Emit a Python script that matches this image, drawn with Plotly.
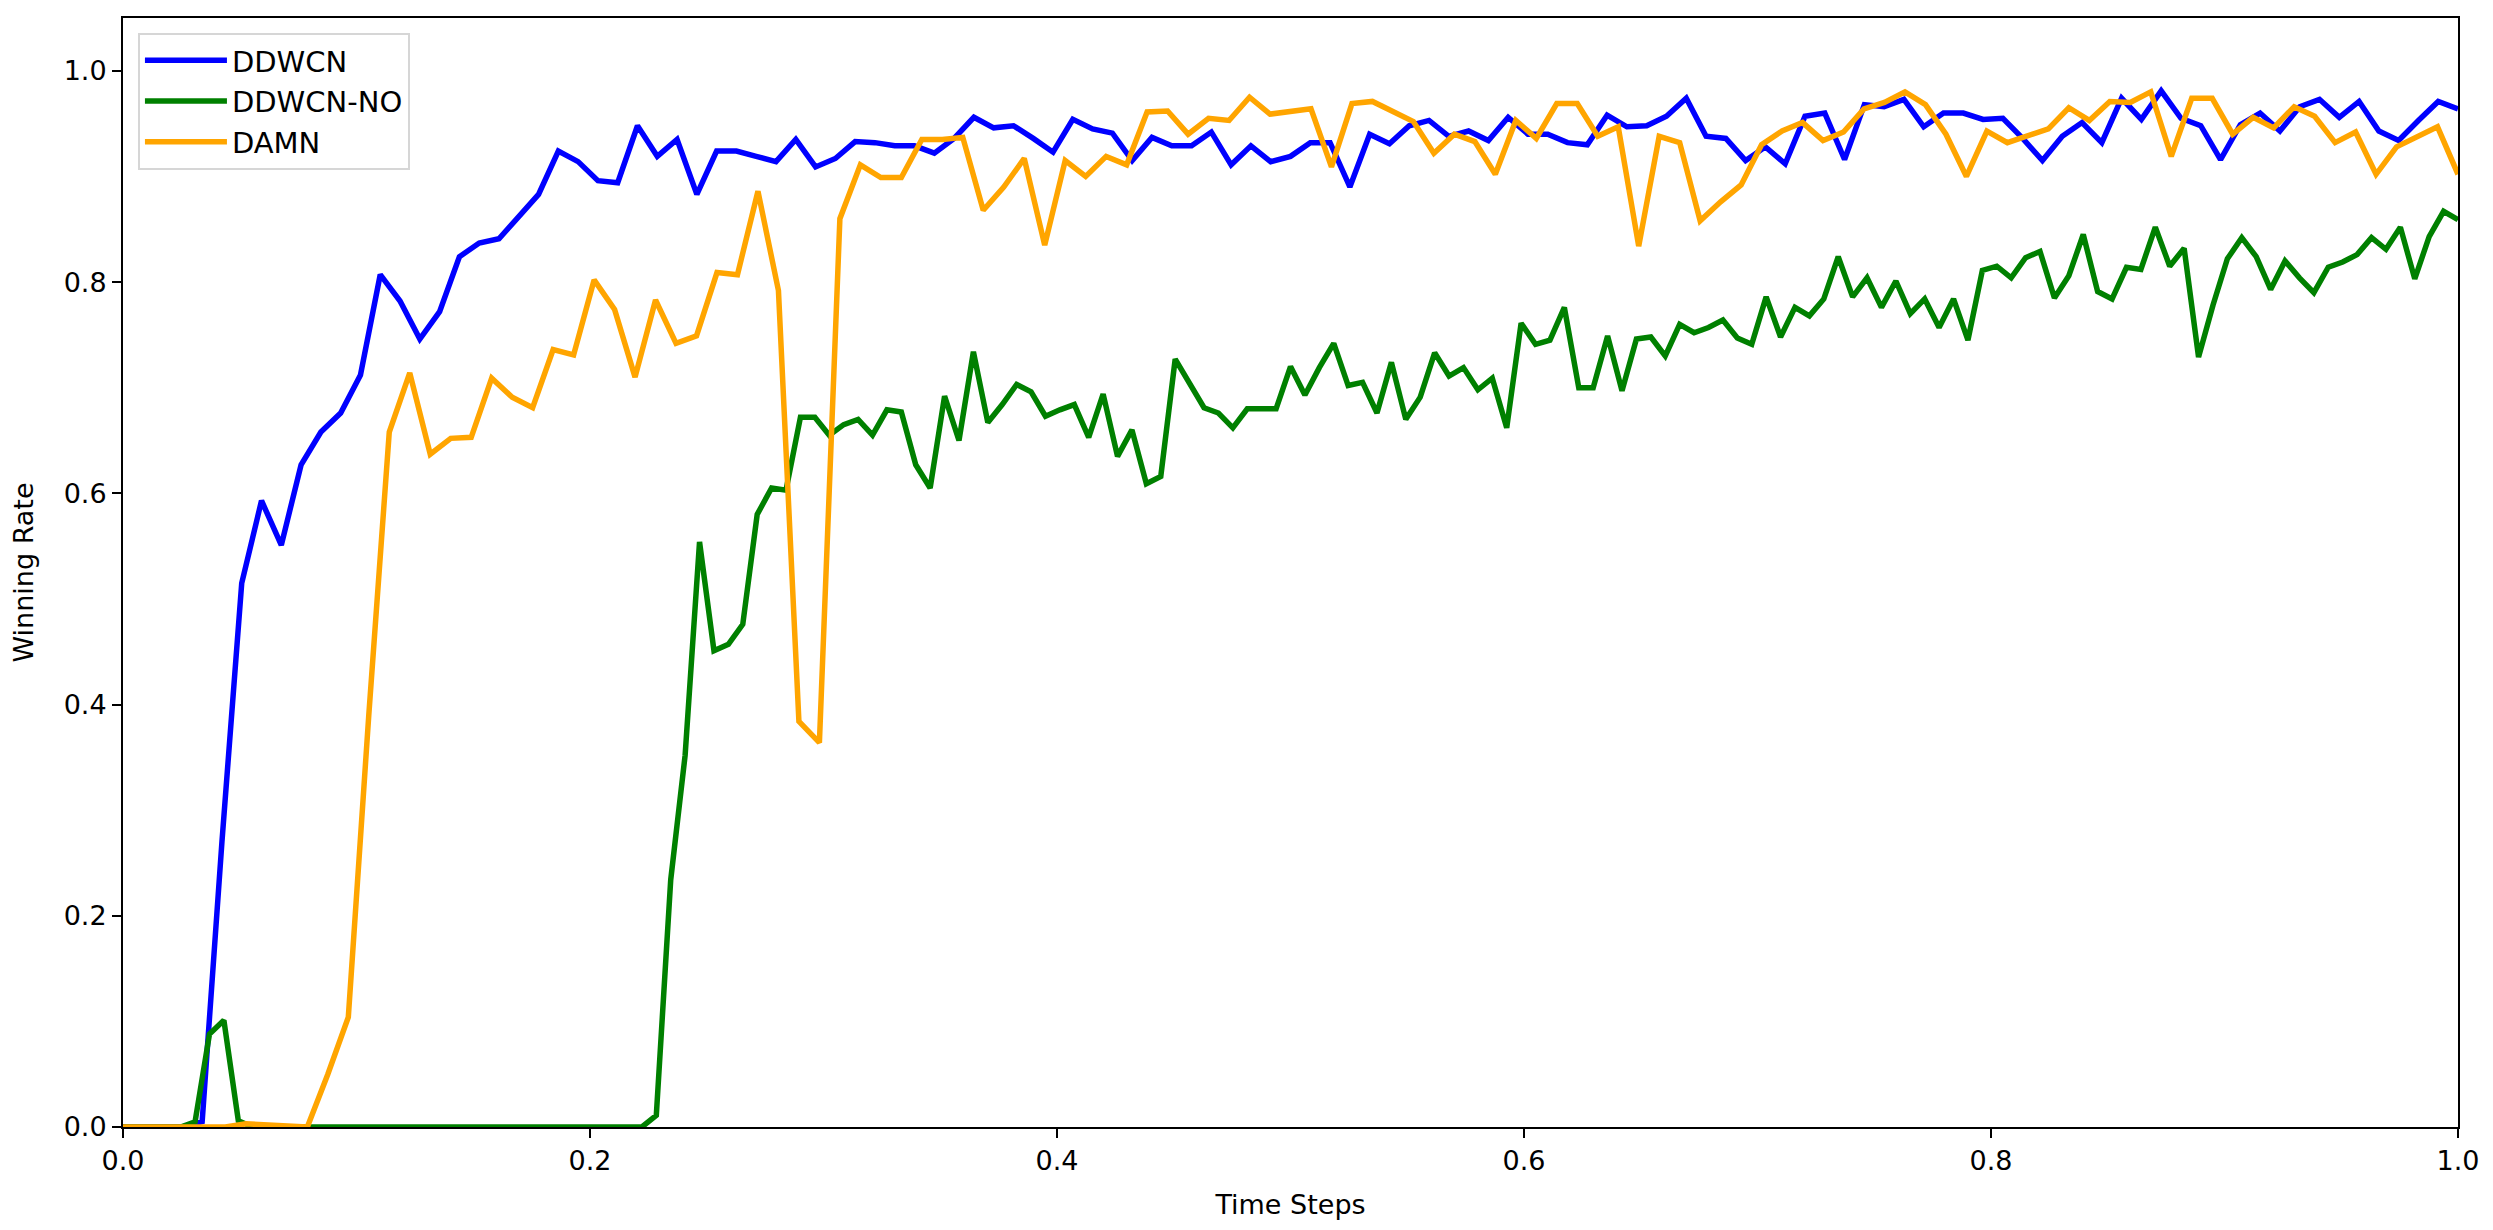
import numpy as np
import plotly.graph_objects as go

# ---- data ----
ddwcn = [0.0, 0.0, 0.0, 0.0, 0.005, 0.27, 0.515, 0.593, 0.551, 0.627,
         0.658, 0.676, 0.712, 0.807, 0.782, 0.746, 0.772, 0.824, 0.837, 0.841,
         0.862, 0.883, 0.924, 0.914, 0.896, 0.894, 0.948, 0.919, 0.935, 0.883,
         0.924, 0.924, 0.919, 0.914, 0.935, 0.909, 0.917, 0.933, 0.932, 0.929,
         0.929, 0.922, 0.936, 0.956, 0.946, 0.948, 0.936, 0.923, 0.954, 0.945,
         0.941, 0.915, 0.937, 0.929, 0.929, 0.942, 0.911, 0.929, 0.914, 0.919,
         0.932, 0.932, 0.890, 0.940, 0.931, 0.948, 0.953, 0.938, 0.943, 0.934,
         0.956, 0.940, 0.940, 0.932, 0.930, 0.958, 0.947, 0.948, 0.957, 0.974,
         0.938, 0.936, 0.915, 0.928, 0.912, 0.957, 0.960, 0.916, 0.968, 0.966,
         0.973, 0.947, 0.960, 0.960, 0.954, 0.955, 0.936, 0.915, 0.938, 0.951,
         0.932, 0.974, 0.954, 0.981, 0.955, 0.948, 0.916, 0.949, 0.960, 0.943,
         0.966, 0.973, 0.956, 0.971, 0.943, 0.934, 0.953, 0.971, 0.964]

ddwcn_no = [0.0, 0.0, 0.0, 0.0, 0.0, 0.005, 0.088, 0.101, 0.006,
            0.0, 0.0, 0.0, 0.0, 0.0, 0.0, 0.0, 0.0, 0.0, 0.0,
            0.0, 0.0, 0.0, 0.0, 0.0, 0.0, 0.0, 0.0, 0.0, 0.0,
            0.0, 0.0, 0.0, 0.0, 0.0, 0.0, 0.0, 0.0,
            0.011, 0.234, 0.352, 0.554, 0.451, 0.457, 0.476, 0.580, 0.605, 0.603,
            0.672, 0.672, 0.655, 0.665, 0.670, 0.655, 0.679, 0.677, 0.627, 0.605,
            0.692, 0.650, 0.734, 0.667, 0.684, 0.703, 0.696, 0.673, 0.679, 0.684,
            0.653, 0.694, 0.635, 0.660, 0.609, 0.616, 0.727, 0.703, 0.681, 0.676,
            0.662, 0.680, 0.680, 0.680, 0.720, 0.693, 0.719, 0.742, 0.702, 0.705,
            0.676, 0.724, 0.670, 0.691, 0.733, 0.711, 0.719, 0.698, 0.709, 0.662,
            0.761, 0.741, 0.745, 0.776, 0.700, 0.700, 0.749, 0.697, 0.746, 0.748,
            0.730, 0.760, 0.752, 0.757, 0.764, 0.747, 0.741, 0.786, 0.748, 0.776,
            0.768, 0.784, 0.824, 0.786, 0.804, 0.776, 0.801, 0.770, 0.784, 0.757,
            0.784, 0.745, 0.811, 0.815, 0.804, 0.823, 0.829, 0.785, 0.806, 0.845,
            0.791, 0.784, 0.814, 0.812, 0.852, 0.815, 0.832, 0.729, 0.778, 0.822,
            0.842, 0.824, 0.793, 0.820, 0.804, 0.790, 0.814, 0.819, 0.826, 0.842,
            0.831, 0.852, 0.803, 0.843, 0.867, 0.859]

damn = [0.0, 0.0, 0.0, 0.0, 0.0, 0.0, 0.003, 0.002, 0.0, 0.0,
        0.05, 0.104, 0.39, 0.658, 0.714, 0.637, 0.652, 0.653, 0.709, 0.691,
        0.681, 0.736, 0.731, 0.802, 0.774, 0.710, 0.783, 0.742, 0.749, 0.809,
        0.807, 0.886, 0.792, 0.384, 0.364, 0.860, 0.911, 0.899, 0.899, 0.935,
        0.935, 0.937, 0.868, 0.890, 0.917, 0.835, 0.915, 0.900, 0.919, 0.911,
        0.961, 0.962, 0.940, 0.955, 0.953, 0.975, 0.959, 0.962, 0.964, 0.909,
        0.969, 0.971, 0.962, 0.952, 0.922, 0.940, 0.933, 0.902, 0.953, 0.936,
        0.969, 0.969, 0.938, 0.947, 0.834, 0.938, 0.932, 0.858, 0.876, 0.892,
        0.930, 0.943, 0.951, 0.934, 0.942, 0.964, 0.970, 0.980, 0.968, 0.940,
        0.900, 0.943, 0.932, 0.938, 0.945, 0.965, 0.953, 0.971, 0.970, 0.980,
        0.919, 0.974, 0.974, 0.940, 0.956, 0.946, 0.966, 0.957, 0.932, 0.942,
        0.902, 0.928, 0.938, 0.947, 0.902]

series_names = ["DDWCN", "DDWCN-NO", "DAMN"]
series_colors = ["#0000ff", "#008000", "#ffa500"]
tick_vals = [0.0, 0.2, 0.4, 0.6, 0.8, 1.0]
tick_text = ["0.0", "0.2", "0.4", "0.6", "0.8", "1.0"]

FONT = "DejaVu Sans"
FS = 27

fig = go.Figure()
for name, vals, col in zip(series_names, [ddwcn, ddwcn_no, damn], series_colors):
    xs = np.linspace(0.0, 1.0, len(vals))
    fig.add_trace(go.Scatter(x=xs, y=vals, mode="lines", name=name, legendgroup=name,
                             line=dict(color=col, width=5.5)))

axis_common = dict(showline=True, linecolor="black", linewidth=2, mirror=True,
                   ticks="outside", ticklen=9, tickwidth=2, tickcolor="black",
                   showgrid=False, zeroline=False,
                   tickfont=dict(family=FONT, size=FS, color="black"),
                   tickvals=tick_vals, ticktext=tick_text, automargin=False)

# page body has an 8px margin; size the figure to fit the window
fig.update_layout(
    width=2477, height=1214,
    margin=dict(l=115, r=27, t=10, b=95),
    paper_bgcolor="white", plot_bgcolor="white",
    font=dict(family=FONT, size=FS, color="black"),
    xaxis=dict(range=[0, 1], title=dict(text="Time Steps", font=dict(family=FONT, size=FS), standoff=20), **axis_common),
    yaxis=dict(range=[0, 1.05], title=dict(text="Winning Rate", font=dict(family=FONT, size=FS), standoff=22), **axis_common),
    legend=dict(x=0.0064, y=0.9865, xanchor="left", yanchor="top",
                bgcolor="rgba(255,255,255,0.85)", bordercolor="#d6d6d6", borderwidth=2,
                font=dict(family=FONT, size=29, color="black"), itemwidth=82,
                tracegroupgap=0),
    showlegend=True,
)

fig.write_html("out.html")
